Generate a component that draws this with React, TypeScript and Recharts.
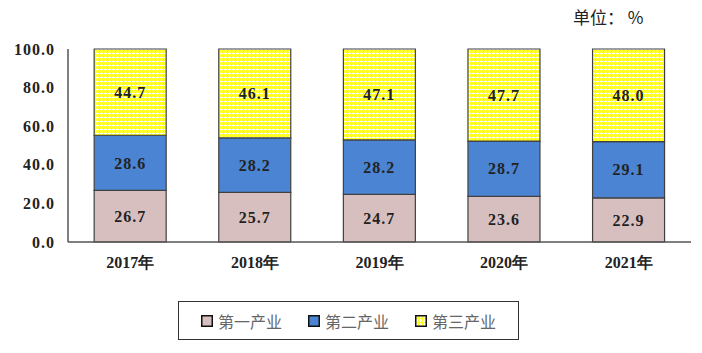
import React from "react";
import { BarChart, Bar, XAxis, YAxis, LabelList, Legend } from "recharts";

// 三次产业构成（%）
const years = ["2017年", "2018年", "2019年", "2020年", "2021年"];
const primary = [26.7, 25.7, 24.7, 23.6, 22.9];
const secondary = [28.6, 28.2, 28.2, 28.7, 29.1];
const tertiary = [44.7, 46.1, 47.1, 47.7, 48.0];
const yTicks = [0, 20, 40, 60, 80, 100];

const seriesNames = ["第一产业", "第二产业", "第三产业"];

const data = years.map((year, i) => ({
  year,
  primary: primary[i],
  secondary: secondary[i],
  tertiary: tertiary[i],
}));

const PINK = "#D8BFBF";
const BLUE = "#4A84D3";
const YELLOW = "#FFFF22";
const EDGE = "#404040";
const serif = "'Liberation Serif', 'Times New Roman', serif";

function LegendBox() {
  const swatches = [PINK, BLUE, "url(#lattice)"];
  return (
    <div
      style={{
        position: "absolute",
        left: 178,
        top: 301,
        width: 341,
        height: 39,
        border: "1.5px solid #333",
        boxSizing: "border-box",
        display: "flex",
        alignItems: "center",
        paddingLeft: 22,
        gap: 26,
        fontFamily: "'Noto Sans CJK SC', sans-serif",
        fontSize: 16,
        color: "#666",
      }}
    >
      {seriesNames.map((name, i) => (
        <div key={name} style={{ display: "flex", alignItems: "center", gap: 5 }}>
          <svg width={12} height={12}>
            <rect x={0.75} y={0.75} width={10.5} height={10.5} fill={swatches[i]} stroke="#111" strokeWidth={1.5} />
          </svg>
          <span>{name}</span>
        </div>
      ))}
    </div>
  );
}

const labelProps = {
  position: "center" as const,
  formatter: (v: number) => v.toFixed(1),
  fill: "#222",
  fontSize: 16,
  fontWeight: "bold",
  fontFamily: serif,
  letterSpacing: 1,
};

export default function App() {
  return (
    <div style={{ position: "absolute", left: 0, top: 0, width: 702, height: 353, background: "#fff" }}>
      <div
        style={{
          position: "absolute",
          left: 573,
          top: 4,
          fontFamily: "'Noto Sans CJK SC', sans-serif",
          fontSize: 17,
          color: "#222",
          whiteSpace: "pre",
        }}
      >
        单位： %
      </div>
      <BarChart
        width={702}
        height={353}
        data={data}
        margin={{ top: 49, right: 11, bottom: 81, left: 8 }}
        barCategoryGap="21%"
      >
        <defs>
          <pattern id="lattice" width={4} height={4} patternUnits="userSpaceOnUse">
            <rect width={4} height={4} fill={YELLOW} />
            <rect x={0} y={1} width={3} height={1} fill="#fff" />
            <rect x={1} y={0} width={1} height={3} fill="#fff" />
          </pattern>
        </defs>
        <XAxis
          dataKey="year"
          axisLine={{ stroke: "#555", strokeWidth: 1.5 }}
          tickLine={false}
          tickSize={0}
          tickMargin={15}
          tick={{ fill: "#222", fontSize: 16, fontWeight: "bold", fontFamily: serif }}
          height={30}
        />
        <YAxis
          domain={[0, 100]}
          ticks={yTicks}
          interval={0}
          tickFormatter={(v: number) => v.toFixed(1)}
          axisLine={{ stroke: "#555", strokeWidth: 1.5 }}
          tickLine={false}
          tickSize={0}
          tickMargin={13}
          tick={{ fill: "#222", fontSize: 16, fontWeight: "bold", fontFamily: serif, letterSpacing: 1 }}
          width={60}
        />
        <Legend content={() => null} />
        <Bar dataKey="primary" name={seriesNames[0]} stackId="a" fill={PINK} stroke={EDGE} strokeWidth={1.2} isAnimationActive={false}>
          <LabelList dataKey="primary" {...labelProps} />
        </Bar>
        <Bar dataKey="secondary" name={seriesNames[1]} stackId="a" fill={BLUE} stroke={EDGE} strokeWidth={1.2} isAnimationActive={false}>
          <LabelList dataKey="secondary" {...labelProps} />
        </Bar>
        <Bar dataKey="tertiary" name={seriesNames[2]} stackId="a" fill="url(#lattice)" stroke={EDGE} strokeWidth={1.2} isAnimationActive={false}>
          <LabelList dataKey="tertiary" {...labelProps} />
        </Bar>
      </BarChart>
      <LegendBox />
    </div>
  );
}
